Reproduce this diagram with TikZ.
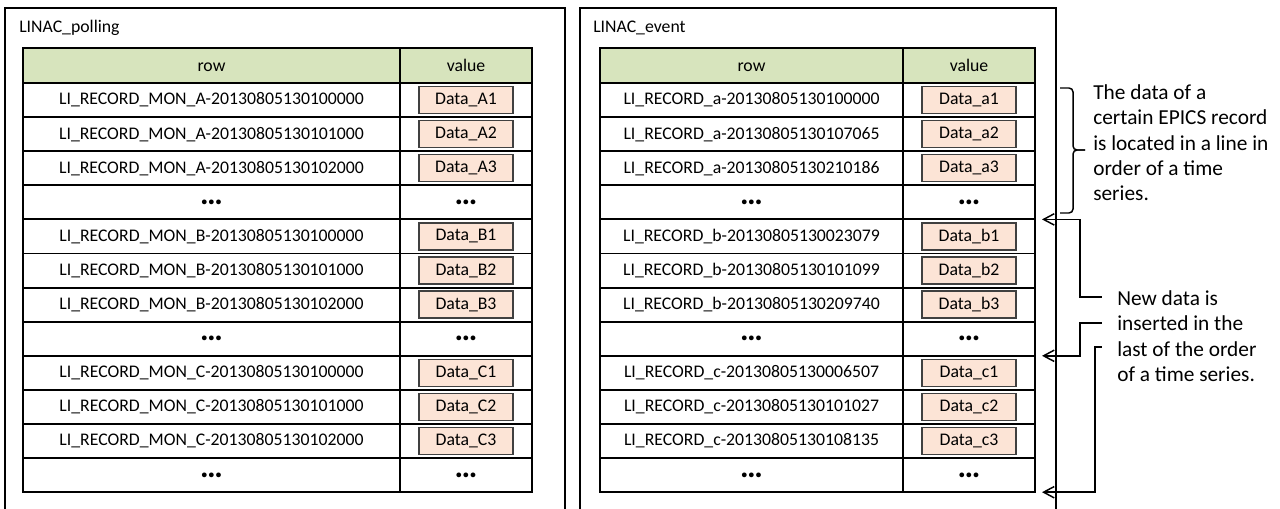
\documentclass[tikz,border=0pt]{standalone}
\usepackage{fontspec}
\setmainfont{Carlito}
\usepackage{xcolor}
\usetikzlibrary{calc,arrows.meta,positioning}
\definecolor{headgreen}{HTML}{D7E4BD}
\definecolor{datapeach}{HTML}{FCE4D6}
\newcommand{\dotsrow}{{\fontsize{24}{24}\selectfont\textbf{…}}}

\begin{document}
\begin{tikzpicture}[
  x=0.75pt, y=-0.75pt,
  font=\fontsize{13.3}{16}\selectfont,
  frame/.style={draw, line width=2.2pt},
  cell/.style={draw, line width=1.4pt, anchor=north west, inner sep=0pt, outer sep=0pt,
    minimum height=25.58pt, minimum width=#1},
  head/.style={cell=#1, fill=headgreen, minimum height=26pt, text height=8.6pt, text depth=0pt},
  databox/.style={draw=black!75, line width=1.1pt, fill=datapeach, inner sep=0pt,
    minimum width=70.5pt, minimum height=20.25pt},
  note/.style={font=\fontsize{16}{19.1}\selectfont, align=left, anchor=north west, inner sep=0pt},
  link/.style={line width=1.1pt},
  ins/.style={link, {Straight Barb[length=8pt,width=8.5pt]}-}
]
\useasboundingbox (0,0) rectangle (1280,509);
% the two column families
\draw[frame] (5,509) -- (5,8) -- (565,8) -- (565,509);
\draw[frame] (580,509) -- (580,8) -- (1056,8) -- (1056,509);
\node[anchor=base west, inner sep=0pt] (p-title) at (19,33) {LINAC\_polling};
\node[anchor=base west, inner sep=0pt] (e-title) at (593,33) {LINAC\_event};

% LINAC_polling table
\node[head=282.75pt] (p-rh) at (23,48) {row};
\node[head=99pt] (p-vh) at (400,48) {value};
\foreach \i/\rk/\dv in {
  1/A-20130805130100000/A1, 2/A-20130805130101000/A2, 3/A-20130805130102000/A3,
  5/B-20130805130100000/B1, 6/B-20130805130101000/B2, 7/B-20130805130102000/B3,
  9/C-20130805130100000/C1, 10/C-20130805130101000/C2, 11/C-20130805130102000/C3} {
  \node[cell=282.75pt] (p-r\i) at (23,{83+34.1*(\i-1)}) {LI\_RECORD\_MON\_\rk};
  \node[cell=99pt] (p-v\i) at (400,{83+34.1*(\i-1)}) {};
  \node[databox] (p-d\i) at (p-v\i.center) {Data\_\dv};
}
\foreach \i in {4,8,12} {
  \node[cell=282.75pt] (p-r\i) at (23,{83+34.1*(\i-1)}) {\dotsrow};
  \node[cell=99pt] (p-v\i) at (400,{83+34.1*(\i-1)}) {\dotsrow};
}

% LINAC_event table
\node[head=227.25pt] (e-rh) at (600,48) {row};
\node[head=99pt] (e-vh) at (903,48) {value};
\foreach \i/\rk/\dv in {
  1/a-20130805130100000/a1, 2/a-20130805130107065/a2, 3/a-20130805130210186/a3,
  5/b-20130805130023079/b1, 6/b-20130805130101099/b2, 7/b-20130805130209740/b3,
  9/c-20130805130006507/c1, 10/c-20130805130101027/c2, 11/c-20130805130108135/c3} {
  \node[cell=227.25pt] (e-r\i) at (600,{83+34.1*(\i-1)}) {LI\_RECORD\_\rk};
  \node[cell=99pt] (e-v\i) at (903,{83+34.1*(\i-1)}) {};
  \node[databox] (e-d\i) at (e-v\i.center) {Data\_\dv};
}
\foreach \i in {4,8,12} {
  \node[cell=227.25pt] (e-r\i) at (600,{83+34.1*(\i-1)}) {\dotsrow};
  \node[cell=99pt] (e-v\i) at (903,{83+34.1*(\i-1)}) {\dotsrow};
}

% notes
\node[note] (n-order) at (1093,84) {The data of a\\certain EPICS record\\is located in a line in\\order of a time\\series.};
\node[note] (n-new) at (1117,290) {New data is\\inserted in the\\last of the order\\of a time series.};
\draw[link, rounded corners=3pt] (1060,88) -- (1073,88) -- (1073,150) -- (1085,150);
\draw[link, rounded corners=3pt] (1085,150) -- (1073,150) -- (1073,213) -- (1060,213);

% insertion points
\coordinate (t1) at ([xshift=5.25pt]e-v4.south east);
\coordinate (t2) at ([xshift=5.25pt]e-v8.south east);
\coordinate (t3) at ([xshift=5.25pt]e-v12.south east);
\coordinate (l1) at (1102,297);
\coordinate (l2) at (1102,323);
\coordinate (l3) at (1102,347);
\draw[ins] (t1) -- ++(38,0) |- (l1);
\draw[ins] (t2) -- ++(38,0) |- (l2);
\draw[ins] (t3) -- ++(53,0) |- (l3);
\end{tikzpicture}
\end{document}
